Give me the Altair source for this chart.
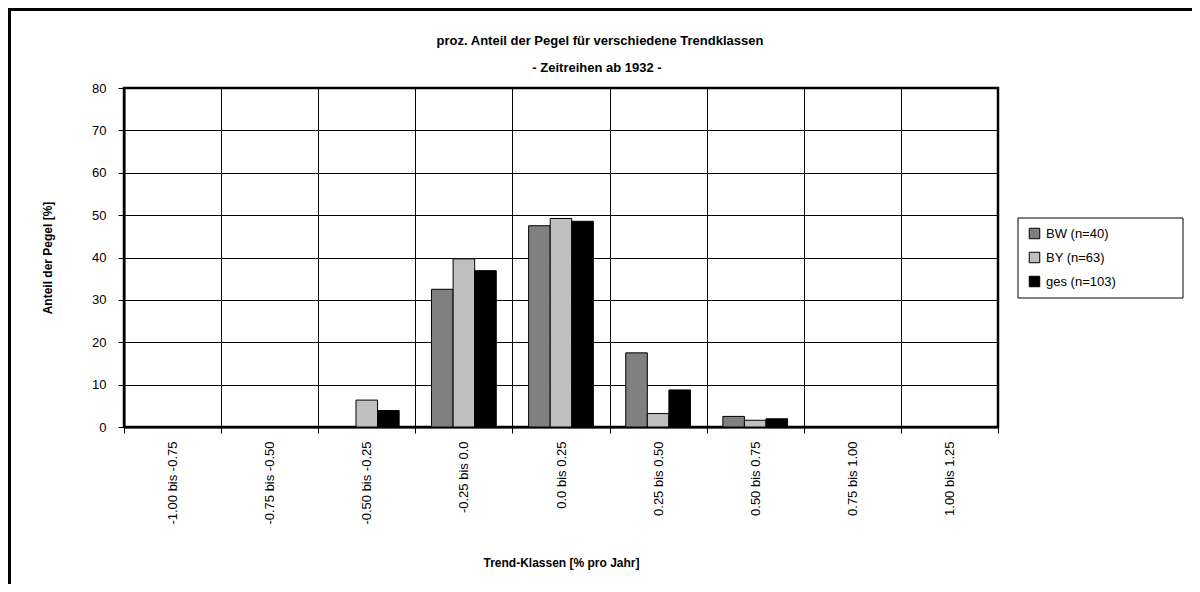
import altair as alt
import pandas as pd

categories = ["-1.00 bis -0.75", "-0.75 bis -0.50", "-0.50 bis -0.25", "-0.25 bis 0.0",
              "0.0 bis 0.25", "0.25 bis 0.50", "0.50 bis 0.75", "0.75 bis 1.00", "1.00 bis 1.25"]
series = ["BW (n=40)", "BY (n=63)", "ges (n=103)"]
bw = [0, 0, 0, 32.5, 47.5, 17.5, 2.5, 0, 0]
by = [0, 0, 6.35, 39.68, 49.21, 3.17, 1.59, 0, 0]
ges = [0, 0, 3.88, 36.89, 48.54, 8.74, 1.94, 0, 0]
colors = ["#808080", "#c0c0c0", "#000000"]
title_lines = ["proz. Anteil der Pegel für verschiedene Trendklassen", "- Zeitreihen ab 1932 -"]

rows = []
for s, vals in zip(series, [bw, by, ges]):
    for c, v in zip(categories, vals):
        rows.append({"Klasse": c, "Serie": s, "Anteil": v})
df = pd.DataFrame(rows)

FONT = "Liberation Sans"

bars = alt.Chart(df).mark_bar(stroke="black", strokeWidth=1).encode(
    x=alt.X("Klasse:N", sort=categories,
            scale=alt.Scale(paddingInner=0, paddingOuter=0),
            axis=alt.Axis(title="Trend-Klassen [% pro Jahr]", labelAngle=-90,
                          labelAlign="right", labelBaseline="middle",
                          labelFontSize=13, labelPadding=8, labelColor="black",
                          tickBand="extent", tickSize=6, tickColor="black",
                          domainColor="black", domainWidth=2,
                          grid=True, gridColor="black", gridWidth=1,
                          titleFontSize=12, titleFontWeight="bold", titlePadding=33,
                          titleColor="black")),
    xOffset=alt.XOffset("Serie:N", sort=series,
                        scale=alt.Scale(paddingOuter=0.75, paddingInner=0)),
    y=alt.Y("Anteil:Q", scale=alt.Scale(domain=[0, 80], nice=False),
            axis=alt.Axis(title="Anteil der Pegel [%]", values=list(range(0, 81, 10)),
                          labelFontSize=13, labelPadding=12, labelColor="black",
                          tickSize=6, tickColor="black", domainColor="black", domainWidth=2,
                          grid=True, gridColor="black", gridWidth=1,
                          titleFontSize=12, titleFontWeight="bold", titlePadding=37,
                          titleColor="black")),
    color=alt.Color("Serie:N", sort=series,
                    scale=alt.Scale(domain=series, range=colors),
                    legend=alt.Legend(title=None, orient="none", legendX=896, legendY=131,
                                      symbolType="square", symbolSize=110,
                                      symbolStrokeColor="black", symbolStrokeWidth=1,
                                      labelFontSize=13, labelColor="black",
                                      padding=8, rowPadding=9, labelOffset=5)),
)

frame = pd.DataFrame({"k": [0]})
left_line = alt.Chart(frame).mark_rule(color="black", strokeWidth=3).encode(
    x=alt.value(-114.5), y=alt.value(-78.5), y2=alt.value(600))
top_line = alt.Chart(frame).mark_rule(color="black", strokeWidth=3).encode(
    x=alt.value(-116), x2=alt.value(1200), y=alt.value(-78.5))
legend_box = alt.Chart(frame).mark_rect(fill="white", stroke="black", strokeWidth=1).encode(
    x=alt.value(894), x2=alt.value(1059), y=alt.value(130), y2=alt.value(210))

title1 = alt.Chart(frame).mark_text(fontSize=13, fontWeight="bold", font=FONT,
                                    align="center", baseline="alphabetic", color="black").encode(
    x=alt.value(476), y=alt.value(-43), text=alt.value(title_lines[0]))
title2 = alt.Chart(frame).mark_text(fontSize=13, fontWeight="bold", font=FONT,
                                    align="center", baseline="alphabetic", color="black").encode(
    x=alt.value(473), y=alt.value(-16), text=alt.value(title_lines[1]))

chart = alt.layer(legend_box, bars, left_line, top_line, title1, title2).properties(
    width=874, height=339,
    autosize=alt.AutoSizeParams(type="none"),
    padding={"left": 116, "top": 80, "right": 194, "bottom": 157},
).configure(font=FONT).configure_view(
    stroke="black", strokeWidth=2.5
).configure_axis(labelFont=FONT, titleFont=FONT).configure_legend(
    labelFont=FONT
)

chart.save("out.html", embed_options={"renderer": "svg", "actions": False})
